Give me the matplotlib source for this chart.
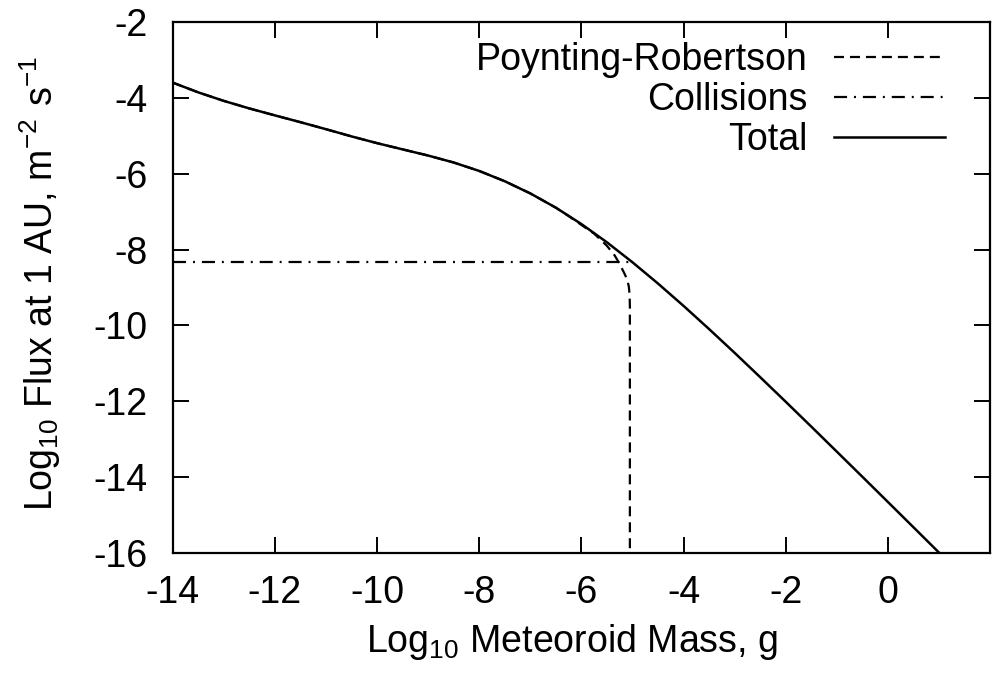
import matplotlib
matplotlib.use("Agg")
import matplotlib.pyplot as plt

# Log10 meteoroid mass (g) and log10 flux at 1 AU (m^-2 s^-1)
total_logm = [-14.0, -13.5, -13.0, -12.5, -12.0, -11.5, -11.0, -10.5, -10.0,
              -9.5, -9.0, -8.5, -8.0, -7.5, -7.0, -6.5, -6.0, -5.5, -5.0,
              -4.5, -4.0, -3.5, -3.0, -2.5, -2.0, -1.5, -1.0, -0.5, 0.0,
              0.5, 1.0]
total_logf = [-3.598, -3.855, -4.080, -4.279, -4.462, -4.641, -4.826, -5.016,
              -5.194, -5.358, -5.521, -5.704, -5.927, -6.198, -6.519, -6.895,
              -7.326, -7.808, -8.334, -8.895, -9.484, -10.095, -10.722,
              -11.363, -12.011, -12.666, -13.326, -13.988, -14.653, -15.319,
              -15.987]

pr_logm = [-14.0, -13.5, -13.0, -12.5, -12.0, -11.5, -11.0, -10.5, -10.0,
           -9.5, -9.0, -8.5, -8.0, -7.5, -7.0, -6.5, -6.25, -6.0, -5.75,
           -5.5, -5.35, -5.25, -5.15, -5.10, -5.07, -5.055, -5.05, -5.05]
pr_logf = [-3.598, -3.855, -4.080, -4.279, -4.462, -4.641, -4.826, -5.016,
           -5.194, -5.358, -5.521, -5.704, -5.927, -6.198, -6.519, -6.895,
           -7.115, -7.350, -7.580, -7.900, -8.150, -8.380, -8.650, -8.800,
           -8.980, -9.200, -9.500, -16.0]

coll_logm = [-14.0, -5.0]
coll_logf = [-8.33, -8.33]

series_labels = ["Poynting-Robertson", "Collisions", "Total"]

xticks = [-14, -12, -10, -8, -6, -4, -2, 0]
yticks = [-16, -14, -12, -10, -8, -6, -4, -2]

plt.rcParams["font.family"] = ["Liberation Sans", "DejaVu Sans"]
plt.rcParams["mathtext.fontset"] = "custom"
plt.rcParams["mathtext.rm"] = "Liberation Sans"
plt.rcParams["axes.unicode_minus"] = False
plt.rcParams["lines.scale_dashes"] = False

FS = 27
W, H = 992, 679
fig = plt.figure(figsize=(W / 100, H / 100), dpi=100)
left, right, top, bottom = 172.7, 990.0, 22.0, 553.0
ax = fig.add_axes([left / W, 1 - bottom / H, (right - left) / W, (bottom - top) / H])

lw = 1.6
ax.plot(pr_logm, pr_logf, color="black", lw=lw, linestyle=(0, (7.2, 4.3)),
        label=series_labels[0])
ax.plot(coll_logm, coll_logf, color="black", lw=lw,
        linestyle=(0, (9.4, 5.0, 1.4, 5.0)), label=series_labels[1])
ax.plot(total_logm, total_logf, color="black", lw=lw + 0.2,
        label=series_labels[2])

ax.set_xlim(-14, 2)
ax.set_ylim(-16, -2)
ax.set_xticks(xticks)
ax.set_yticks(yticks)
ax.set_xticklabels([str(v) for v in xticks])
ax.set_yticklabels([str(v) for v in yticks])
ax.tick_params(direction="in", length=11.5, width=1.4, top=True, right=True,
               labelsize=FS, color="black")
ax.tick_params(axis="x", pad=16)
ax.tick_params(axis="y", pad=18)
for s in ax.spines.values():
    s.set_linewidth(1.6)

ax.set_xlabel(r"$\mathregular{Log_{10}}$ Meteoroid Mass, g", fontsize=FS)
ax.set_ylabel(r"$\mathregular{Log_{10}}$ Flux at 1 AU, $\mathregular{m^{-2}\ s^{-1}}$",
              fontsize=FS)
ax.xaxis.set_label_coords((572 - left) / (right - left), -(642 - bottom) / (bottom - top))
ax.yaxis.set_label_coords(-(left - 40) / (right - left), (bottom - 283) / (bottom - top))
ax.xaxis.label.set_va("center")
ax.yaxis.label.set_va("center")

leg = ax.legend(loc="upper right", markerfirst=False, frameon=False,
                fontsize=FS, handlelength=2.95, handletextpad=0.72,
                labelspacing=0.11, borderpad=0.0, borderaxespad=0.0,
                bbox_to_anchor=((945 - left) / (right - left), (bottom - 42) / (bottom - top)))

fig.savefig("out.png", dpi=100)
